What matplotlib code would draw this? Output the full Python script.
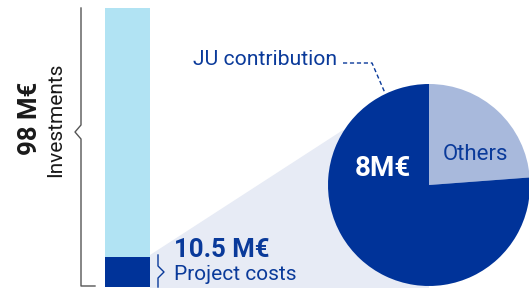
import matplotlib
matplotlib.use("Agg")
import matplotlib.pyplot as plt
from matplotlib.patches import Polygon

plt.rcParams["font.family"] = ["Roboto", "DejaVu Sans"]

# data
total_invest = 98.0       # M€
project_costs = 10.5      # M€
pie_labels = ["Others", "JU contribution"]
pie_values = [2.5, 8.0]   # M€ of the project costs

DARK = "#003399"
LIGHT_BAR = "#b1e3f3"
OTHERS = "#a8b9dc"
ZOOM = "#e7ebf5"
TXT_BLUE = "#0a3a9a"
BRACE = "#555555"

W, H = 529, 288
fig = plt.figure(figsize=(W / 100, H / 100), dpi=100)
ax = fig.add_axes([0, 0, 1, 1])


def Y(y):
    # image row -> data y (y up)
    return H - y


# connector area between bar and pie
ax.add_patch(Polygon([(150, Y(255)), (343, Y(130)), (429, Y(185)), (429, 0), (150, 0)],
                     closed=True, facecolor=ZOOM, edgecolor="none", zorder=1))

# pie
ax.pie(pie_values, colors=[OTHERS, DARK], startangle=90, counterclock=False,
       center=(429, Y(185)), radius=101, wedgeprops=dict(linewidth=0, zorder=2))

ax.set_xlim(0, W)
ax.set_ylim(0, H)
ax.set_aspect("auto")
ax.axis("off")

# stacked bar in its own axes
bax = fig.add_axes([105 / W, 1 / H, 45 / W, 279.5 / H])
bax.bar([0], [project_costs], width=1, color=DARK, linewidth=0)
bax.bar([0], [total_invest - project_costs], bottom=[project_costs], width=1,
        color=LIGHT_BAR, linewidth=0)
bax.set_xlim(-0.5, 0.5)
bax.set_ylim(0, total_invest)
bax.axis("off")

# big brace on the left
ax.plot([81, 81, 75, 81, 81, 95], [Y(8), Y(125), Y(132), Y(139), Y(286), Y(286)],
        color=BRACE, lw=1.0, zorder=3)
# small brace near project costs
ax.plot([158, 158, 164, 158, 158], [Y(255), Y(266), Y(272), Y(278), Y(287)],
        color=TXT_BLUE, lw=1.0, zorder=3)

# texts
ax.text(30, Y(118), f"{total_invest:.0f} M€", rotation=90, ha="center", va="center",
        fontsize=18.5, fontweight="bold", color="#1a1a1a")
ax.text(56, Y(120), "Investments", rotation=90, ha="center", va="center",
        fontsize=15, color="#1a1a1a")
ax.text(174, Y(257), f"{project_costs} M€", ha="left", va="baseline",
        fontsize=18.5, fontweight="bold", color=TXT_BLUE, zorder=4)
ax.text(174, Y(280), "Project costs", ha="left", va="baseline",
        fontsize=15, color=TXT_BLUE, zorder=4)
ax.text(193, Y(65), pie_labels[1], ha="left", va="baseline",
        fontsize=15.2, color=TXT_BLUE, zorder=4)
ax.plot([343, 372, 385], [Y(63), Y(63), Y(93)], color=TXT_BLUE, lw=1.0,
        ls=(0, (3, 2)), zorder=3)
ax.text(383, Y(169), f"{pie_values[1]:.0f}M€", ha="center", va="center",
        fontsize=20, fontweight="bold", color="white", zorder=4)
ax.text(476, Y(154), pie_labels[0], ha="center", va="center",
        fontsize=16, color=TXT_BLUE, zorder=4)

fig.savefig("out.png", dpi=100)
